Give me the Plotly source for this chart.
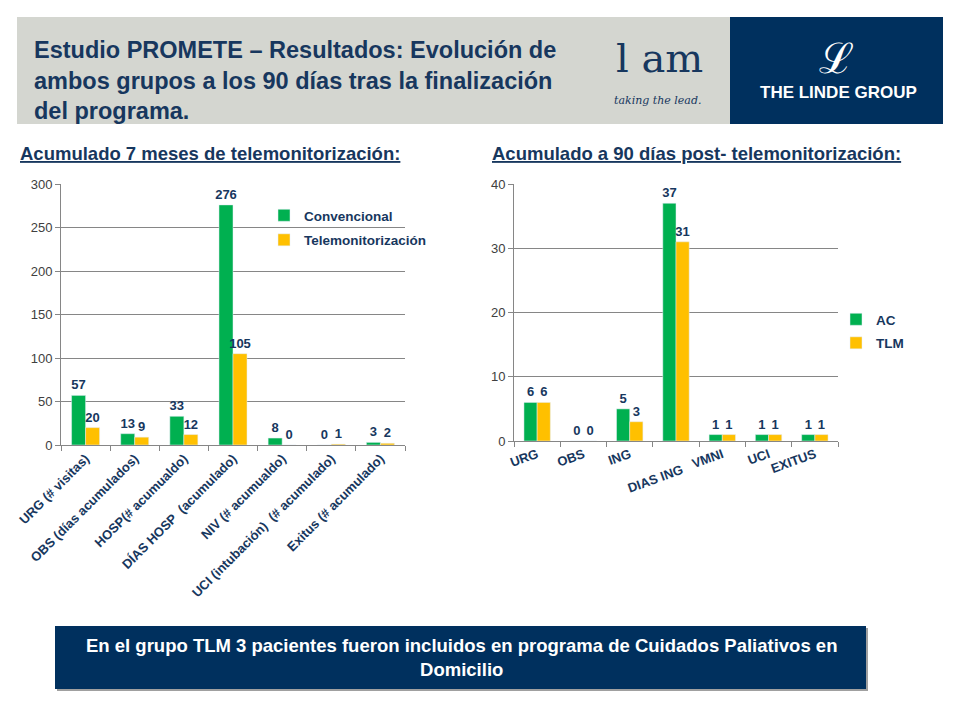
import plotly.graph_objects as go

# ---- data ----
left_categories = ["URG (# visitas)", "OBS (días acumulados)", "HOSP(# acumualdo)",
                   "DÍAS HOSP  (acumulado)", "NIV (# acumualdo)",
                   "UCI (intubación)  (# acumulado)", "Exitus (# acumulado)"]
left_convencional = [57, 13, 33, 276, 8, 0, 3]
left_telemonitorizacion = [20, 9, 12, 105, 0, 1, 2]

right_categories = ["URG", "OBS", "ING", "DIAS ING", "VMNI", "UCI", "EXITUS"]
right_ac = [6, 0, 5, 37, 1, 1, 1]
right_tlm = [6, 0, 3, 31, 1, 1, 1]

left_ticks = [0, 50, 100, 150, 200, 250, 300]
right_ticks = [0, 10, 20, 30, 40]

GREEN = "#00b050"
YELLOW = "#ffc000"
NAVY = "#17375e"
FONT = "Liberation Sans"

W, H = 960, 720
def px(x):
    return x / W
def py(y):
    return 1 - y / H

fig = go.Figure()

lbl_font = dict(family=FONT, size=13, color=NAVY)

def bar(cats, vals, name, color, xa, ya, leg, grp):
    return go.Bar(x=cats, y=vals, name=name, marker_color=color, text=vals,
                  textposition="outside", texttemplate="<b>%{text}</b>",
                  textfont=lbl_font, cliponaxis=False, constraintext="none",
                  xaxis=xa, yaxis=ya, legend=leg, legendgroup=grp)

fig.add_trace(bar(left_categories, left_convencional, "Convencional", GREEN, "x", "y", "legend", "a"))
fig.add_trace(bar(left_categories, left_telemonitorizacion, "Telemonitorización", YELLOW, "x", "y", "legend", "b"))
fig.add_trace(bar(right_categories, right_ac, "AC", GREEN, "x2", "y2", "legend2", "c"))
fig.add_trace(bar(right_categories, right_tlm, "TLM", YELLOW, "x2", "y2", "legend2", "d"))

# Excel staggers the "DIAS ING" label one line lower
right_ticktext = [("<br>" + c) if c == "DIAS ING" else c for c in right_categories]

axis_common = dict(showline=True, linecolor="#868686", linewidth=1,
                   ticks="outside", ticklen=5, tickcolor="#868686", automargin=False)

fig.update_layout(
    width=W, height=H, margin=dict(l=0, r=0, t=0, b=0, autoexpand=False),
    paper_bgcolor="white", plot_bgcolor="white",
    barmode="group", bargap=0.43, bargroupgap=0,
    font=dict(family=FONT, color=NAVY),
    xaxis=dict(domain=[px(61), px(405)], anchor="y", tickangle=-45, tickson="boundaries",
               tickfont=dict(family=FONT, size=13, color=NAVY, weight="bold"),
               **axis_common),
    yaxis=dict(domain=[py(445), py(184)], anchor="x", range=[0, 300],
               tickvals=left_ticks, showgrid=True, gridcolor="#868686", gridwidth=1,
               tickfont=dict(family=FONT, size=13, color="#404040"),
               zeroline=False, **axis_common),
    xaxis2=dict(domain=[px(514), px(838)], anchor="y2", tickangle=-20, tickson="boundaries",
                tickmode="array", tickvals=right_categories, ticktext=right_ticktext,
                tickfont=dict(family=FONT, size=13, color=NAVY, weight="bold"),
                **axis_common),
    yaxis2=dict(domain=[py(441), py(184)], anchor="x2", range=[0, 40],
                tickvals=right_ticks, showgrid=True, gridcolor="#868686", gridwidth=1,
                tickfont=dict(family=FONT, size=13, color="#404040"),
                zeroline=False, **axis_common),
    legend=dict(x=px(264), y=py(200), xanchor="left", yanchor="top",
                bgcolor="rgba(0,0,0,0)", font=dict(family=FONT, size=13.5, color=NAVY, weight="bold"),
                tracegroupgap=4, itemwidth=30),
    legend2=dict(x=px(836), y=py(304), xanchor="left", yanchor="top",
                 bgcolor="rgba(0,0,0,0)", font=dict(family=FONT, size=13.5, color=NAVY, weight="bold"),
                 tracegroupgap=3, itemwidth=30),
    showlegend=True,
)

shapes = [
    dict(type="rect", xref="paper", yref="paper", x0=px(17), x1=px(730), y0=py(124), y1=py(17),
         fillcolor="#d4d6d0", line=dict(width=0), layer="below"),
    dict(type="rect", xref="paper", yref="paper", x0=px(730), x1=px(943), y0=py(124), y1=py(17),
         fillcolor="#00305e", line=dict(width=0), layer="below"),
    dict(type="rect", xref="paper", yref="paper", x0=px(57), x1=px(868), y0=py(691), y1=py(628),
         fillcolor="#a0a0a0", line=dict(width=0), layer="below"),
    dict(type="rect", xref="paper", yref="paper", x0=px(55), x1=px(866), y0=py(689), y1=py(626),
         fillcolor="#00305e", line=dict(width=0), layer="below"),
]
fig.update_layout(shapes=shapes)

ann = [
    dict(text="<b>Estudio PROMETE – Resultados: Evolución de<br>ambos grupos a los 90 días tras la finalización<br>del programa.</b>",
         x=px(32), y=py(80), xanchor="left", yanchor="middle", align="left",
         font=dict(family=FONT, size=23.5, color="#17375e"), showarrow=False,
         xref="paper", yref="paper"),
    dict(text="l am", x=px(659), y=py(58), xanchor="center", yanchor="middle",
         font=dict(family="DejaVu Serif", size=40, color="#17375e"), showarrow=False,
         xref="paper", yref="paper"),
    dict(text="<i>taking the lead.</i>", x=px(657), y=py(101), xanchor="center", yanchor="middle",
         font=dict(family="DejaVu Serif", size=11, color="#17375e"), showarrow=False,
         xref="paper", yref="paper"),
    dict(text="ℒ", x=px(836), y=py(58), xanchor="center", yanchor="middle",
         font=dict(family="DejaVu Serif", size=42, color="white"), showarrow=False,
         xref="paper", yref="paper"),
    dict(text="<b>THE LINDE GROUP</b>", x=px(838), y=py(92), xanchor="center", yanchor="middle",
         font=dict(family=FONT, size=17, color="white"), showarrow=False,
         xref="paper", yref="paper"),
    dict(text="<b><u>Acumulado 7 meses de telemonitorización:</u></b>", x=px(18), y=py(153),
         xanchor="left", yanchor="middle",
         font=dict(family=FONT, size=18.5, color="#17375e"), showarrow=False,
         xref="paper", yref="paper"),
    dict(text="<b><u>Acumulado a 90 días post- telemonitorización:</u></b>", x=px(490), y=py(153),
         xanchor="left", yanchor="middle",
         font=dict(family=FONT, size=18.5, color="#17375e"), showarrow=False,
         xref="paper", yref="paper"),
    dict(text="<b>En el grupo TLM 3 pacientes fueron incluidos en programa de Cuidados Paliativos en<br>Domicilio</b>",
         x=px(461), y=py(657), xanchor="center", yanchor="middle", align="center",
         font=dict(family=FONT, size=18.5, color="white"), showarrow=False,
         xref="paper", yref="paper"),
]
fig.update_layout(annotations=ann)

fig.write_html("out.html", config={"displayModeBar": False},
               post_script="document.body.style.margin='0';")
